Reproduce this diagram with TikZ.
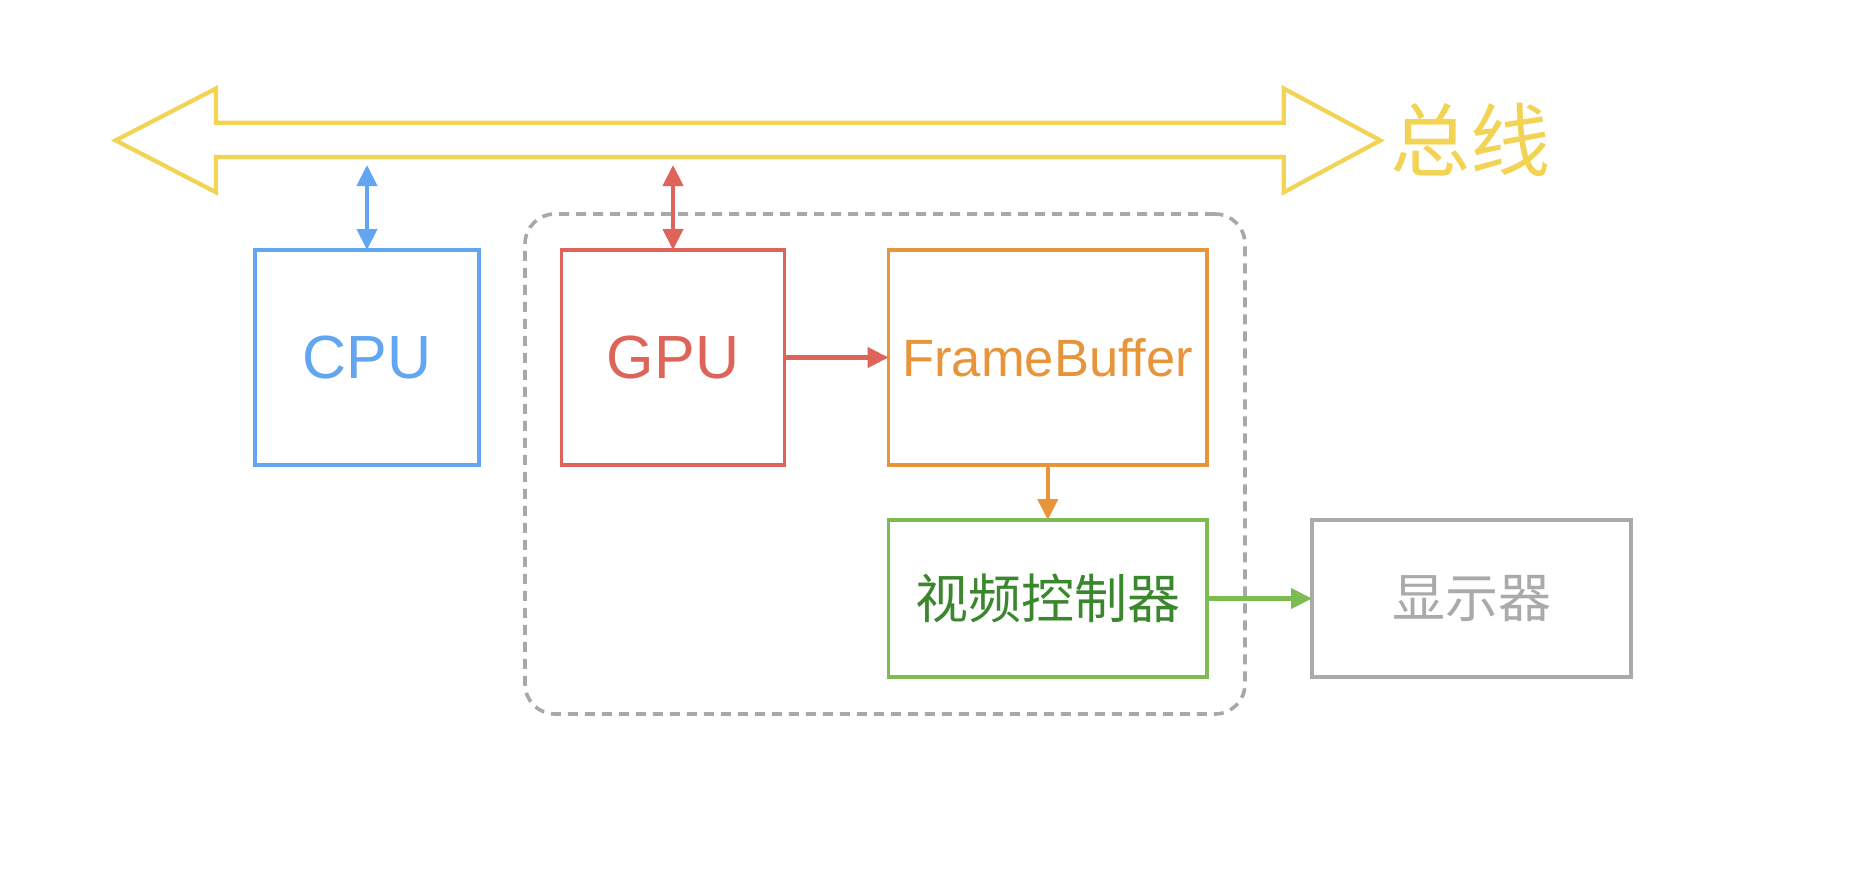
\documentclass[tikz,border=0pt]{standalone}
\usepackage{fontspec}
\usetikzlibrary{arrows.meta}
\newfontfamily\latf{Liberation Sans}
\newfontfamily\cjk{Noto Sans CJK SC}
\definecolor{busyellow}{RGB}{242,211,84}
\definecolor{cpublue}{RGB}{98,166,242}
\definecolor{gpured}{RGB}{222,99,88}
\definecolor{fborange}{RGB}{232,148,58}
\definecolor{vcgreen}{RGB}{126,188,82}
\definecolor{vctext}{RGB}{58,135,45}
\definecolor{dispgrey}{RGB}{170,170,170}
\definecolor{dashgrey}{RGB}{168,168,168}
\tikzset{
  unitbox/.style={draw, line width=3.8pt, outer sep=0pt, inner sep=0pt, align=center},
  conn/.style={line width=4.2pt, -{Triangle[length=21pt,width=20pt]}},
  biconn/.style={line width=4.2pt, {Triangle[length=21pt,width=20pt]}-{Triangle[length=21pt,width=20pt]}},
}
\begin{document}
\begin{tikzpicture}[x=1pt,y=-1pt]
\useasboundingbox (0,0) rectangle (1850,878);
% grouping dashed box
\node[draw=dashgrey, line width=3.6pt, dash pattern=on 10pt off 7pt, rounded corners=30pt,
      minimum width=720pt, minimum height=500pt, inner sep=0pt] (group) at (885,464) {};
% bus double arrow
\draw[busyellow, line width=4.2pt, line join=miter]
  (115.6,140.4) -- (216,88.5) -- (216,122.7) -- (1283.7,122.7) -- (1283.7,88.5)
  -- (1380.4,140.4) -- (1283.7,192.3) -- (1283.7,156.9) -- (216,156.9) -- (216,192.3) -- cycle;
\node[busyellow, anchor=west, inner sep=0pt] (buslabel) at (1390,140) {\cjk\fontsize{80}{90}\selectfont 总线};
\coordinate (buscpu) at (367,165);
\coordinate (busgpu) at (673,165);
% boxes
\node[unitbox, draw=cpublue, text=cpublue, minimum width=224pt, minimum height=215pt] (cpu) at (367,357.5)
  {\latf\fontsize{61}{70}\selectfont CPU};
\node[unitbox, draw=gpured, text=gpured, minimum width=223pt, minimum height=215pt] (gpu) at (673,357.5)
  {\latf\fontsize{61}{70}\selectfont GPU};
\node[unitbox, draw=fborange, text=fborange, minimum width=318.5pt, minimum height=215pt] (fb) at (1047.8,357.5)
  {\latf\fontsize{52.5}{62}\selectfont FrameBuffer};
\node[unitbox, draw=vcgreen, text=vctext, minimum width=318.5pt, minimum height=157pt] (vc) at (1047.8,598.5)
  {\cjk\fontsize{53}{62}\selectfont 视频控制器};
\node[unitbox, draw=dispgrey, text=dispgrey, minimum width=319pt, minimum height=157pt] (disp) at (1471.5,598.5)
  {\cjk\fontsize{53}{62}\selectfont 显示器};
% connectors
\draw[biconn, cpublue] (buscpu) -- (cpu.north);
\draw[biconn, gpured] (busgpu) -- (gpu.north);
\draw[conn, gpured] (gpu.east) -- (fb.west);
\draw[conn, fborange] (fb.south) -- (vc.north);
\draw[conn, vcgreen] (vc.east) -- (disp.west);
\end{tikzpicture}
\end{document}
